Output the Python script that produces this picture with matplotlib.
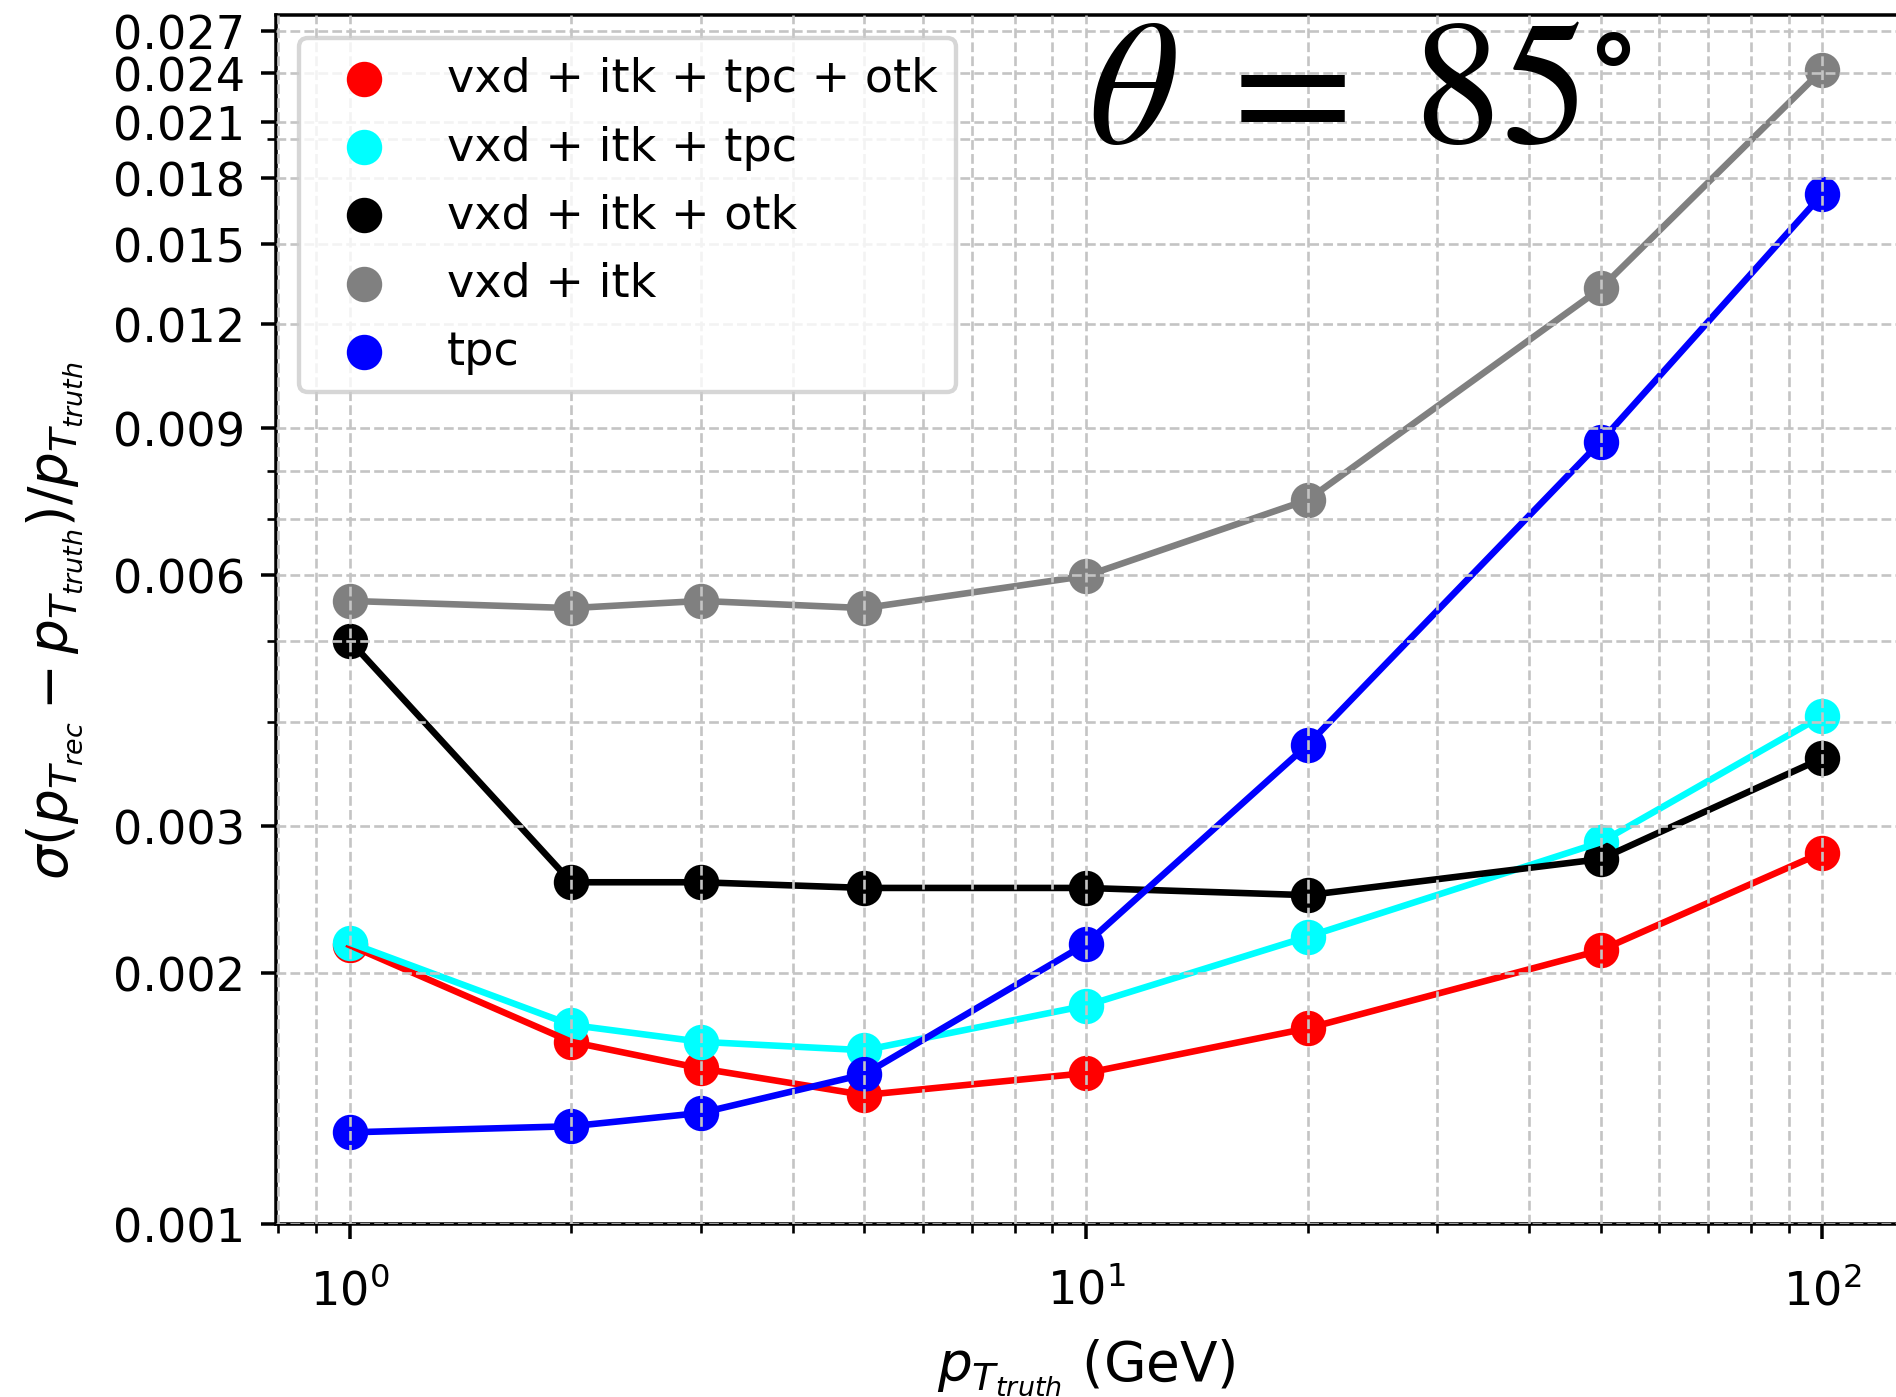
import matplotlib
matplotlib.use("Agg")
import matplotlib.pyplot as plt
from matplotlib.ticker import NullFormatter

#transverse momentum points (GeV)
pt_truth = [1, 2, 3, 5, 10, 20, 50, 100]

#relative pT resolution for each detector combination
res_all = [0.00216, 0.001654, 0.001537, 0.001428, 0.001517, 0.001717, 0.00213, 0.00279]
res_no_otk = [0.002175, 0.001733, 0.001654, 0.001616, 0.001828, 0.002211, 0.00287, 0.00407]
res_no_tpc = [0.00501, 0.00257, 0.00257, 0.00253, 0.00253, 0.00248, 0.00274, 0.00362]
res_vxd_itk = [0.00559, 0.00548, 0.00559, 0.00548, 0.00599, 0.00739, 0.01325, 0.02424]
res_tpc = [0.001288, 0.00131, 0.001359, 0.001512, 0.002168, 0.003757, 0.00868, 0.01719]

labels = ["vxd + itk + tpc + otk", "vxd + itk + tpc", "vxd + itk + otk", "vxd + itk", "tpc"]
colors = ["red", "cyan", "black", "gray", "blue"]
series = [res_all, res_no_otk, res_no_tpc, res_vxd_itk, res_tpc]

y_ticks = [0.001, 0.002, 0.003, 0.006, 0.009, 0.012, 0.015, 0.018, 0.021, 0.024, 0.027]
y_tick_labels = ["0.001", "0.002", "0.003", "0.006", "0.009", "0.012",
                 "0.015", "0.018", "0.021", "0.024", "0.027"]

fig = plt.figure(figsize=(6.0, 1398 / 316), dpi=316)
ax = fig.add_axes([276 / 1896, 173 / 1398, 1620 / 1896, 1209 / 1398])

for values, color, label in zip(series, colors, labels):
    ax.plot(pt_truth, values, color=color, linewidth=1.5)
    ax.scatter(pt_truth, values, color=color, s=50, label=label)

ax.set_xscale("log")
ax.set_yscale("log")
ax.set_xlim(10 ** -0.1, 10 ** 2.1)
ax.set_ylim(0.001, 0.0282)

ax.set_yticks(y_ticks, y_tick_labels)
ax.yaxis.set_minor_formatter(NullFormatter())
ax.tick_params(labelsize=10.5)
ax.tick_params(axis="x", which="major", pad=6.5)

#grid drawn over the data like in the original
ax.set_axisbelow(False)
ax.grid(True, which="both", linestyle="--", color="#c4c4c4", linewidth=0.6)
ax.spines["right"].set_visible(False)

ax.set_xlabel(r"$p_{T_{truth}}$ (GeV)", fontsize=12.5, labelpad=5)
ax.set_ylabel(r"$\sigma(p_{T_{rec}} - p_{T_{truth}})/p_{T_{truth}}$", fontsize=12.5, labelpad=6.5)

ax.legend(loc="upper left", scatterpoints=1, fontsize=10.5)

ax.text(0.501, 0.895, r"$\theta\;=\;85^{\circ}$", transform=ax.transAxes,
        fontsize=40, math_fontfamily="stix")

fig.savefig("out.png", dpi=316)
